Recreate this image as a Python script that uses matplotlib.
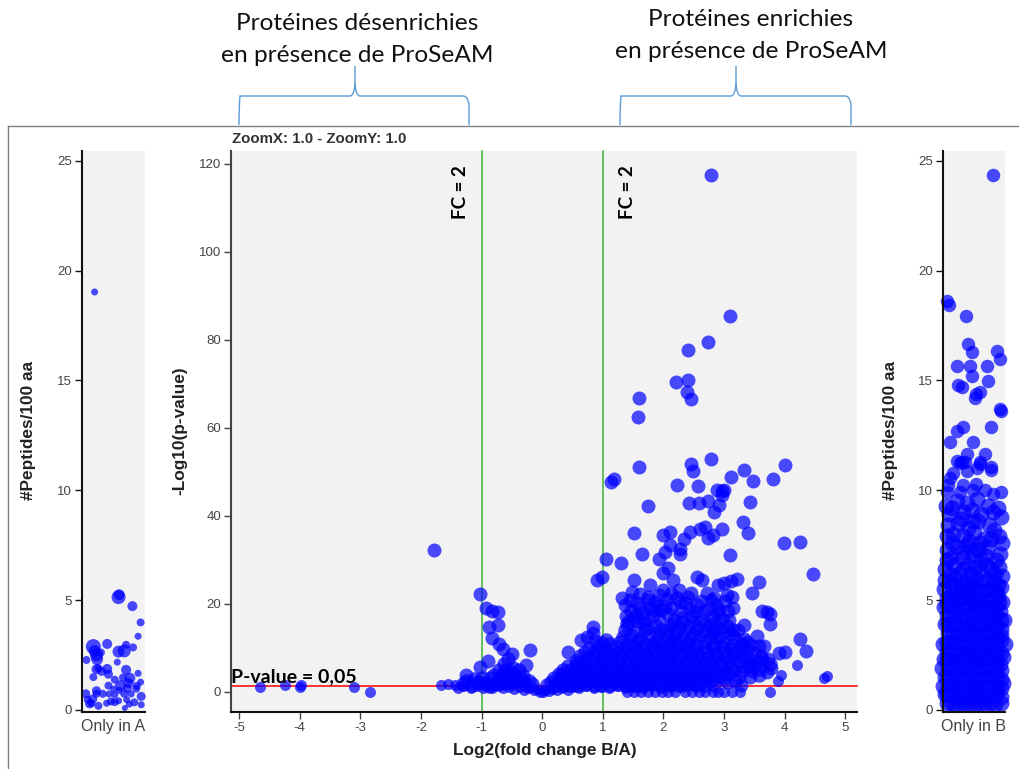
import matplotlib
matplotlib.use("Agg")
from matplotlib import pyplot as plt
from matplotlib.path import Path
from matplotlib.patches import PathPatch

FIG_W, FIG_H = 1020, 769
BLUE = "#0000ff"
PANEL_BG = "#f2f2f2"
TICK_GREY = "#444444"

# main panel: (log2 fold change, -log10 p)
main_upper = [
    (2.78, 117.5), (3.10, 85.5), (2.74, 79.5), (2.41, 77.8), (2.20, 70.5), (2.41, 70.8), (2.38, 68.2),
    (2.45, 66.7), (1.60, 66.8), (1.58, 62.5), (1.60, 51.2), (2.45, 51.8), (2.49, 50.3), (2.78, 52.9),
    (3.12, 48.9), (3.33, 50.4), (3.47, 47.9), (3.80, 48.4), (4.01, 51.5), (1.13, 47.7), (1.19, 48.3),
    (2.22, 47.0), (2.57, 46.8), (2.88, 46.0), (2.96, 45.7), (-1.78, 32.3), (-1.02, 22.3), (-0.92, 19.0),
    (-0.83, 18.5), (-0.73, 18.1), (-0.88, 14.7), (-0.73, 15.2), (0.90, 25.4), (0.98, 26.2), (1.05, 30.3),
    (1.30, 29.4), (1.64, 31.4), (1.51, 36.2), (1.74, 42.3), (2.42, 43.0), (2.58, 43.0), (2.73, 43.5),
    (3.00, 45.9), (2.96, 44.8), (2.91, 42.5), (2.84, 40.8), (3.42, 43.1), (3.31, 38.7), (3.40, 36.2),
    (2.96, 37.0), (2.82, 35.7), (2.74, 35.1), (2.69, 37.6), (2.60, 37.1), (2.43, 36.4), (2.34, 34.7),
    (2.00, 35.7), (2.10, 36.4), (2.11, 33.4), (2.03, 31.9), (1.92, 30.2), (2.28, 32.4), (2.27, 31.4),
    (3.10, 31.1), (3.99, 33.9), (4.25, 34.2), (4.46, 26.8), (2.08, 28.1), (2.00, 27.0), (2.15, 25.4),
    (2.55, 26.2), (2.63, 25.4), (2.90, 24.3), (3.00, 24.8), (3.12, 25.2), (3.21, 25.6), (3.58, 25.1),
    (3.46, 22.6), (1.51, 25.4), (1.78, 24.3), (1.48, 22.8), (2.00, 23.2), (2.25, 23.2), (2.71, 22.6),
    (3.05, 22.0), (3.13, 21.5), (2.83, 21.3), (1.31, 21.3), (1.37, 19.8), (1.45, 21.0), (1.75, 21.5),
    (3.62, 18.3), (3.70, 18.2), (3.76, 17.7), (3.76, 15.4), (3.07, 18.3), (3.32, 15.2), (3.54, 12.7),
    (3.57, 10.5), (3.65, 10.5), (4.25, 12.1), (4.35, 9.3), (4.00, 9.0), (3.90, 8.8), (-0.82, 12.2),
    (-0.71, 11.0), (-0.65, 9.7), (-0.20, 9.6), (-0.50, 8.7), (-0.90, 7.0), (-1.02, 5.6), (-1.25, 3.9),
    (-0.27, 6.1), (0.32, 4.2), (0.43, 9.0), (0.57, 6.7), (0.64, 11.8), (0.74, 12.4), (0.83, 14.7), (0.83, 13.3),
]
main_mid = [
    (1.38, 17.2), (1.42, 16.0), (1.55, 17.6), (1.68, 15.6), (1.74, 20.8), (1.84, 18.6), (1.92, 22.0), (2.06, 21.2), (2.12, 22.6),
    (2.18, 16.4), (2.28, 20.4), (2.40, 21.6), (2.46, 22.4), (2.52, 18.2), (2.62, 20.6), (2.68, 15.4), (2.78, 20.8), (2.85, 16.0),
    (2.92, 18.6), (3.02, 20.6), (3.08, 16.4), (3.15, 19.0), (1.62, 22.2), (1.70, 16.4), (1.90, 19.6), (2.10, 15.0), (2.30, 15.8),
    (2.50, 15.8), (2.84, 14.0), (3.12, 13.2), (3.22, 14.2), (3.38, 11.4), (3.45, 10.6), (3.50, 8.8), (3.60, 8.2), (3.72, 7.6),
    (3.78, 5.4), (3.70, 4.6), (3.46, 4.8), (3.50, 6.0), (3.30, 5.8), (3.42, 3.4), (3.18, 2.6), (3.05, 2.2), (3.28, 1.6),
]
main_cloud = [
    (1.47, 18.4), (1.62, 19.2), (1.86, 20.5), (2.02, 19.6), (2.22, 21.3), (2.36, 20.2), (2.55, 19.8), (2.74, 18.9), (2.86, 19.7),
    (1.51, 16.9), (1.57, 16.1), (1.82, 17.4), (1.93, 16.6), (2.07, 17.8), (2.31, 16.9), (2.47, 17.2), (2.62, 16.4), (2.81, 17.1), (2.96, 16.5),
    (1.72, 14.8), (1.87, 15.1), (1.96, 14.2), (2.16, 15.4), (2.26, 14.6), (2.42, 15.0), (2.56, 14.3), (2.76, 15.2), (2.91, 14.4), (3.05, 15.0),
    (0.87, 11.6), (1.06, 11.9), (1.33, 12.4), (1.46, 12.9), (1.61, 12.1), (1.76, 12.8), (1.91, 11.9), (2.06, 12.7), (2.17, 12.0), (2.31, 12.6), (2.46, 12.1), (2.61, 12.9), (2.76, 12.2), (2.91, 12.5), (3.17, 12.2), (3.33, 12.0),
    (0.78, 9.8), (0.92, 10.4), (1.06, 9.6), (1.22, 10.3), (1.36, 9.9), (1.51, 10.5), (1.66, 9.7), (1.81, 10.4), (1.96, 9.8), (2.11, 10.4), (2.21, 9.9), (2.36, 10.5), (2.51, 9.7), (2.66, 10.3), (2.81, 9.9), (2.96, 10.4), (3.11, 9.8), (3.27, 10.2), (3.38, 9.5),
    (0.62, 8.1), (0.76, 7.7), (0.91, 8.3), (1.03, 7.8), (1.17, 8.2), (1.31, 7.7), (1.46, 8.3), (1.59, 7.8), (1.73, 8.4), (1.87, 7.7), (2.03, 8.2), (2.16, 7.7), (2.31, 8.3), (2.44, 7.8), (2.58, 8.2), (2.73, 7.7), (2.88, 8.3), (3.03, 7.8), (3.16, 8.1), (3.31, 7.7), (3.46, 7.2), (3.62, 7.6),
    (0.42, 6.0), (0.56, 5.6), (0.69, 6.1), (0.84, 5.7), (0.97, 6.0), (1.11, 5.6), (1.26, 6.2), (1.39, 5.7), (1.53, 6.1), (1.67, 5.6), (1.81, 6.2), (1.94, 5.7), (2.09, 6.1), (2.24, 5.6), (2.37, 6.2), (2.52, 5.7), (2.66, 6.0), (2.81, 5.5), (2.95, 6.0), (3.09, 5.5), (3.41, 5.8), (3.58, 5.3), (3.76, 6.4),
    (0.28, 4.1), (0.41, 3.7), (0.53, 4.2), (0.66, 3.8), (0.79, 4.3), (0.93, 3.7), (1.07, 4.2), (1.21, 3.8), (1.34, 4.3), (1.48, 3.7), (1.62, 4.2), (1.76, 3.8), (1.89, 4.3), (2.04, 3.7), (2.18, 4.2), (2.33, 3.8), (2.47, 4.2), (2.61, 3.7), (2.76, 4.1), (2.91, 3.6), (3.07, 4.0), (3.24, 3.4), (3.58, 3.9),
    (0.14, 2.2), (0.27, 2.5), (0.39, 2.1), (0.52, 2.6), (0.65, 2.2), (0.78, 2.7), (0.92, 2.2), (1.05, 2.6), (1.19, 2.2), (1.33, 2.7), (1.46, 2.3), (1.61, 2.6), (1.74, 2.2), (1.88, 2.7), (2.03, 2.3), (2.17, 2.6), (2.31, 2.1), (2.46, 2.5), (2.61, 2.0), (2.76, 2.4),
    (-0.63, 6.3), (-0.56, 7.6), (-0.72, 5.1), (-0.48, 5.4), (-0.38, 5.0), (-0.64, 4.0), (-0.55, 3.2), (-0.45, 3.9), (-0.31, 3.7), (-0.72, 2.8), (-0.86, 3.1), (-0.22, 2.5), (-0.41, 2.4), (-0.60, 2.1), (-0.94, 2.0), (-1.06, 2.2), (-0.78, 1.9), (-0.27, 1.7),
]
main_cloud_fill = [
    (1.40, 15.4), (1.66, 17.9), (2.12, 19.2), (2.29, 18.3), (2.44, 18.9), (2.66, 18.2), (1.96, 18.7), (1.78, 19.1), (1.56, 20.2), (2.90, 17.9),
    (1.55, 13.6), (1.70, 14.0), (1.90, 13.4), (2.05, 13.9), (2.20, 13.3), (2.35, 13.8), (2.50, 13.2), (2.68, 13.9), (2.82, 13.4), (3.00, 13.7), (1.36, 14.2), (3.14, 14.1),
    (0.98, 11.2), (1.12, 10.8), (1.28, 11.3), (1.42, 10.9), (1.56, 11.3), (1.70, 10.8), (1.84, 11.2), (1.98, 10.7), (2.12, 11.3), (2.26, 10.8), (2.40, 11.2), (2.54, 10.7), (2.68, 11.3), (2.84, 10.8), (3.00, 11.2), (3.15, 10.7), (3.30, 11.0),
    (0.70, 9.0), (0.85, 8.8), (1.00, 9.1), (1.14, 8.7), (1.28, 9.0), (1.42, 8.9), (1.56, 9.2), (1.70, 8.7), (1.84, 9.1), (1.98, 8.8), (2.12, 9.1), (2.26, 8.7), (2.40, 9.0), (2.54, 8.8), (2.70, 9.1), (2.84, 8.7), (3.00, 9.0), (3.15, 8.8), (3.30, 9.0),
    (0.55, 7.0), (0.70, 6.9), (0.84, 7.1), (0.98, 6.8), (1.12, 7.1), (1.26, 6.9), (1.40, 7.0), (1.54, 6.8), (1.68, 7.1), (1.82, 6.9), (1.96, 7.0), (2.10, 6.8), (2.24, 7.1), (2.38, 6.9), (2.52, 7.0), (2.66, 6.8), (2.80, 7.1), (2.95, 6.9), (3.10, 7.0), (3.25, 6.8), (3.42, 6.6), (3.56, 6.9),
    (0.35, 5.0), (0.48, 4.9), (0.62, 5.1), (0.76, 4.8), (0.90, 5.0), (1.04, 4.9), (1.18, 5.1), (1.32, 4.8), (1.46, 5.0), (1.60, 4.9), (1.74, 5.1), (1.88, 4.8), (2.02, 5.0), (2.16, 4.9), (2.30, 5.1), (2.44, 4.8), (2.58, 5.0), (2.72, 4.9), (2.86, 5.1), (3.00, 4.8), (3.15, 5.0), (3.30, 4.7),
    (0.20, 3.2), (0.34, 3.1), (0.47, 3.3), (0.60, 3.0), (0.74, 3.3), (0.87, 3.1), (1.00, 3.2), (1.14, 3.0), (1.28, 3.3), (1.41, 3.1), (1.55, 3.2), (1.69, 3.0), (1.83, 3.3), (1.97, 3.1), (2.11, 3.2), (2.25, 3.0), (2.40, 3.3), (2.54, 3.1), (2.69, 3.2), (2.83, 3.0), (2.99, 3.1),
    (0.08, 1.5), (0.21, 1.7), (0.34, 1.5), (0.46, 1.7), (0.59, 1.6), (0.72, 1.8), (0.85, 1.6), (0.99, 1.7), (1.12, 1.5), (1.26, 1.8), (1.40, 1.6), (1.54, 1.7), (1.68, 1.6), (1.81, 1.8), (1.96, 1.6), (2.10, 1.7), (2.24, 1.5), (2.39, 1.8), (2.53, 1.6), (2.68, 1.7), (2.84, 1.6),
    (-1.25, 2.6), (-1.12, 3.0), (-1.00, 3.2), (-0.80, 3.9), (-0.70, 3.5), (-0.60, 5.0), (-0.52, 4.6), (-0.42, 3.0), (-0.34, 2.9), (-0.17, 1.9), (-0.50, 2.2), (-0.67, 2.3), (-0.88, 1.4), (-1.15, 1.6), (-1.30, 1.8),
]
main_floor = [
    (-1.66, 1.6), (-1.55, 1.9), (-1.43, 1.7), (-1.38, 0.9), (-1.30, 1.4), (-1.18, 1.0), (-1.08, 1.3), (-0.98, 0.9), (-0.90, 1.5), (-0.82, 1.0), (-0.72, 1.4), (-0.64, 0.8), (-0.55, 1.2), (-0.47, 0.6), (-0.38, 1.1), (-0.30, 0.5), (-0.21, 0.9), (-0.14, 0.4), (-0.08, 0.6), (-0.03, 0.1), (0.02, 0.0), (0.05, 0.4), (0.11, 0.3), (0.17, 0.7), (0.25, 0.4), (0.32, 1.0), (0.42, 0.5), (0.50, 1.2), (0.60, 0.8), (0.72, 1.3), (0.85, 0.9), (0.97, 1.1), (1.10, 1.0), (1.24, 1.3), (1.37, 0.9), (1.52, 1.2), (1.66, 0.9), (1.80, 1.3), (1.95, 1.0), (2.10, 1.4), (2.30, 1.1), (2.50, 1.3),
    (1.40, 0.1), (1.52, 0.0), (1.63, 0.1), (1.75, 0.0), (1.86, 0.1), (1.97, 0.0), (2.08, 0.0), (2.19, 0.1), (2.35, 0.0), (2.47, 0.1), (2.58, 0.0), (2.68, 0.1), (2.82, 0.0), (2.90, 0.1), (3.00, 0.0), (3.13, 0.0), (3.26, 0.0), (3.76, 0.0), (3.89, 2.4), (3.93, 3.9), (4.20, 6.1), (4.64, 3.2), (4.70, 3.7),
    (-4.66, 1.2), (-4.24, 1.5), (-3.99, 1.2), (-3.98, 1.5), (-3.10, 1.1), (-2.84, 0.0),
]

# side panels: (position across the strip 0..1, #peptides/100 aa, diameter in px)
only_a = [
    (0.20, 19.03, 7), (0.58, 5.13, 14), (0.59, 5.24, 11), (0.80, 4.72, 10), (0.93, 3.98, 8), (0.89, 3.35, 7), (0.18, 2.88, 15),
    (0.20, 2.68, 12), (0.23, 2.50, 13), (0.24, 2.31, 12), (0.30, 2.61, 8), (0.07, 2.27, 8), (0.40, 3.00, 10), (0.58, 2.65, 12),
    (0.67, 2.68, 13), (0.70, 2.96, 8), (0.81, 2.84, 8), (0.56, 2.17, 7), (0.23, 1.85, 10), (0.26, 1.90, 8), (0.40, 1.86, 10),
    (0.31, 1.75, 9), (0.42, 1.62, 9), (0.18, 1.49, 8), (0.70, 1.82, 10), (0.52, 1.37, 8), (0.65, 1.47, 8), (0.76, 1.44, 11),
    (0.89, 1.66, 7), (0.74, 1.22, 10), (0.61, 1.10, 11), (0.93, 1.26, 7), (0.87, 1.09, 8), (0.86, 0.96, 8), (0.42, 1.10, 8),
    (0.50, 0.94, 7), (0.72, 0.98, 9), (0.59, 0.88, 7), (0.23, 0.87, 9), (0.23, 0.73, 8), (0.06, 0.73, 9), (0.33, 0.73, 8),
    (0.43, 0.72, 7), (0.52, 0.68, 7), (0.67, 0.73, 8), (0.78, 0.72, 7), (0.94, 0.61, 9), (0.09, 0.46, 8), (0.17, 0.49, 9),
    (0.12, 0.27, 9), (0.15, 0.30, 8), (0.26, 0.18, 8), (0.39, 0.30, 7), (0.46, 0.38, 8), (0.52, 0.35, 8), (0.58, 0.41, 7),
    (0.71, 0.46, 7), (0.75, 0.26, 7), (0.83, 0.34, 8), (0.94, 0.23, 7), (0.68, 0.08, 6),
]
only_b_upper = [
    (0.80, 24.35), (0.07, 18.60), (0.10, 18.43), (0.37, 17.93), (0.41, 16.68), (0.47, 16.30), (0.87, 16.36), (0.92, 15.96),
    (0.23, 15.65), (0.43, 15.65), (0.71, 15.65), (0.46, 15.20), (0.73, 14.98), (0.25, 14.81), (0.30, 14.70), (0.59, 14.48),
    (0.54, 14.37), (0.51, 14.18), (0.92, 13.72), (0.93, 13.60), (0.33, 12.89), (0.23, 12.70), (0.77, 12.89), (0.12, 12.19),
    (0.49, 12.19), (0.39, 11.67), (0.67, 11.67), (0.23, 11.34), (0.59, 11.30), (0.30, 11.30), (0.27, 11.25), (0.35, 11.30),
    (0.59, 11.20), (0.55, 10.99), (0.78, 11.07), (0.78, 10.90), (0.39, 10.88), (0.16, 10.80), (0.11, 10.54), (0.08, 10.23),
    (0.33, 10.23), (0.54, 10.30), (0.06, 9.93), (0.27, 9.93), (0.49, 10.00), (0.68, 10.03), (0.93, 9.93), (0.81, 9.85),
]
only_b_dense = [
    (0.05, 9.3), (0.22, 9.5), (0.38, 9.4), (0.55, 9.6), (0.72, 9.3), (0.88, 9.2), (0.10, 8.9), (0.33, 9.0), (0.62, 8.9), (0.93, 8.8),
    (0.08, 8.4), (0.24, 8.5), (0.41, 8.3), (0.57, 8.6), (0.74, 8.4), (0.16, 8.0), (0.33, 7.9), (0.50, 8.1), (0.66, 7.8), (0.91, 7.9), (0.95, 7.6),
    (0.06, 7.3), (0.22, 7.4), (0.39, 7.5), (0.56, 7.3), (0.73, 7.4), (0.12, 6.9), (0.30, 6.9), (0.48, 7.0), (0.62, 6.8), (0.85, 6.8), (0.90, 6.5),
    (0.03, 6.4), (0.17, 6.6), (0.33, 6.4), (0.52, 6.5), (0.70, 6.6), (0.84, 6.2), (0.04, 5.9), (0.20, 6.0), (0.37, 5.8), (0.54, 6.0), (0.72, 5.9), (0.93, 5.6),
    (0.02, 5.5), (0.14, 5.6), (0.29, 5.4), (0.45, 5.6), (0.61, 5.4), (0.78, 5.5), (0.88, 5.2), (0.06, 5.1), (0.22, 5.0), (0.38, 5.2), (0.53, 5.0), (0.69, 5.1), (0.95, 4.9),
    (0.01, 4.7), (0.13, 4.8), (0.30, 4.6), (0.46, 4.8), (0.62, 4.6), (0.79, 4.7), (0.92, 4.5), (0.07, 4.3), (0.21, 4.4), (0.37, 4.2), (0.54, 4.4), (0.71, 4.2), (0.86, 4.3), (0.98, 4.1),
    (0.03, 3.9), (0.15, 3.9), (0.29, 3.8), (0.46, 3.9), (0.62, 3.8), (0.78, 3.9), (0.93, 3.7), (0.08, 3.5), (0.22, 3.4), (0.38, 3.5), (0.54, 3.4), (0.70, 3.5), (0.86, 3.4), (1.00, 3.0),
    (0.00, 3.0), (0.14, 3.1), (0.30, 3.0), (0.46, 3.1), (0.62, 3.0), (0.78, 3.1), (0.93, 3.2), (0.06, 2.7), (0.22, 2.6), (0.38, 2.7), (0.54, 2.6), (0.70, 2.7), (0.86, 2.6), (0.97, 2.4),
    (0.02, 2.3), (0.14, 2.3), (0.30, 2.2), (0.46, 2.3), (0.62, 2.2), (0.78, 2.3), (0.92, 2.1), (-0.01, 1.9), (0.08, 1.9), (0.22, 1.8), (0.38, 1.9), (0.54, 1.8), (0.70, 1.9), (0.86, 1.8),
    (0.04, 1.5), (0.15, 1.5), (0.30, 1.4), (0.46, 1.5), (0.62, 1.4), (0.78, 1.5), (0.94, 1.4), (0.00, 1.1), (0.08, 1.1), (0.22, 1.0), (0.38, 1.1), (0.54, 1.0), (0.70, 1.1), (0.86, 1.0), (0.97, 1.2),
    (0.03, 0.7), (0.15, 0.7), (0.30, 0.6), (0.46, 0.7), (0.62, 0.6), (0.78, 0.7), (0.93, 0.6), (0.06, 0.3), (0.20, 0.27), (0.36, 0.3), (0.52, 0.25), (0.68, 0.3), (0.84, 0.28),
]
only_b_fill = [
    (0.15, 9.2), (0.47, 9.1), (0.80, 9.0), (0.30, 8.7), (0.49, 8.6), (0.83, 8.2), (0.07, 7.9), (0.42, 7.7), (0.78, 7.8), (0.15, 7.6), (0.60, 7.6), (0.31, 7.2), (0.47, 7.3), (0.70, 7.0), (0.92, 7.1), (0.06, 6.8), (0.40, 6.6), (0.60, 6.3), (0.78, 6.4), (0.95, 6.1),
    (0.11, 6.2), (0.27, 6.2), (0.45, 6.2), (0.63, 5.8), (0.80, 5.9), (0.11, 5.8), (0.29, 5.7), (0.47, 5.8), (0.88, 5.7), (0.21, 5.3), (0.37, 5.5), (0.53, 5.5), (0.70, 5.4), (0.86, 5.4), (0.13, 5.2), (0.30, 5.1), (0.45, 5.1), (0.61, 5.0), (0.78, 5.0), (0.90, 4.9),
    (0.07, 4.8), (0.21, 4.8), (0.38, 4.7), (0.54, 4.8), (0.71, 4.7), (0.86, 4.7), (0.14, 4.3), (0.29, 4.3), (0.46, 4.3), (0.62, 4.3), (0.78, 4.3), (0.93, 4.1), (0.08, 3.9), (0.22, 3.9), (0.38, 3.8), (0.54, 3.9), (0.70, 3.9), (0.86, 3.8),
    (0.15, 3.5), (0.30, 3.4), (0.46, 3.5), (0.62, 3.4), (0.78, 3.5), (0.93, 3.4), (0.06, 3.1), (0.22, 3.1), (0.38, 3.0), (0.54, 3.1), (0.70, 3.0), (0.86, 3.1), (0.14, 2.7), (0.30, 2.6), (0.46, 2.7), (0.62, 2.6), (0.78, 2.7), (0.93, 2.6),
    (0.07, 2.3), (0.22, 2.2), (0.38, 2.3), (0.54, 2.2), (0.70, 2.3), (0.86, 2.2), (0.15, 1.9), (0.30, 1.8), (0.46, 1.9), (0.62, 1.8), (0.78, 1.9), (0.93, 1.8), (0.08, 1.5), (0.22, 1.4), (0.38, 1.5), (0.54, 1.4), (0.70, 1.5), (0.86, 1.4),
    (0.15, 1.1), (0.30, 1.0), (0.46, 1.1), (0.62, 1.0), (0.78, 1.1), (0.93, 1.0), (0.07, 0.7), (0.22, 0.7), (0.38, 0.6), (0.54, 0.7), (0.70, 0.6), (0.86, 0.7), (0.13, 0.3), (0.28, 0.3), (0.44, 0.27), (0.60, 0.3), (0.76, 0.3), (0.93, 0.3),
]

main_xticks = [-5, -4, -3, -2, -1, 0, 1, 2, 3, 4, 5]
main_yticks = [0, 20, 40, 60, 80, 100, 120]
side_yticks = [0, 5, 10, 15, 20, 25]
pvalue_line = 1.3
fc_lines = [-1, 1]


def px_axes(fig, left, top, right, bottom):
    return fig.add_axes([left / FIG_W, 1 - bottom / FIG_H, (right - left) / FIG_W, (bottom - top) / FIG_H])


def diam(px):
    # scatter size from a diameter in pixels at dpi 100
    return (px * 0.72) ** 2


def style_panel(ax, spine_color):
    ax.set_facecolor(PANEL_BG)
    for side in ["top", "right"]:
        ax.spines[side].set_visible(False)
    for side in ["left", "bottom"]:
        ax.spines[side].set_linewidth(1.5)
        ax.spines[side].set_color(spine_color)
    ax.tick_params(axis="both", direction="out", length=5, width=1, color=spine_color,
                   labelcolor=TICK_GREY, labelsize=9.5, pad=2)


def side_panel(fig, left, right, label):
    ax = px_axes(fig, left, 151, right, 712)
    ax.set_xlim(0, 1)
    ax.set_ylim(-0.1, 25.45)
    style_panel(ax, "#111111")
    ax.set_yticks(side_yticks)
    ax.set_xticks([0.5])
    ax.set_xticklabels([label], fontsize=11.5)
    ax.tick_params(axis="x", length=0, pad=5)
    return ax


def brace(ax, left, right, tip):
    verts = [(left, 125), (left, 105), (left + 1, 96), (left + 6, 96), (tip - 5, 96), (tip - 1, 96), (tip, 84),
             (tip, 66), (tip, 84), (tip + 1, 96), (tip + 5, 96), (right - 6, 96), (right - 1, 96), (right, 105),
             (right, 125)]
    codes = [Path.MOVETO, Path.CURVE3, Path.CURVE3, Path.LINETO, Path.LINETO, Path.CURVE3, Path.CURVE3,
             Path.LINETO, Path.MOVETO, Path.CURVE3, Path.CURVE3, Path.LINETO, Path.CURVE3, Path.CURVE3, Path.LINETO]
    ax.add_patch(PathPatch(Path(verts, codes), fill=False, edgecolor="#5b9bd5", linewidth=1.0))


def main():
    plt.rcParams["font.family"] = ["Liberation Sans", "DejaVu Sans"]
    plt.rcParams["axes.unicode_minus"] = False
    fig = plt.figure(figsize=(FIG_W / 100, FIG_H / 100), dpi=100)

    ax = px_axes(fig, 231, 151, 857, 712)
    ax.set_xlim(-5.13, 5.19)
    ax.set_ylim(-4.55, 122.95)
    style_panel(ax, "#444444")
    ax.spines["bottom"].set_color("#111111")
    ax.set_xticks(main_xticks)
    ax.set_yticks(main_yticks)
    for x in fc_lines:
        ax.axvline(x, color="#3cb034", linewidth=1.1, zorder=1, clip_on=False)
    ax.axhline(pvalue_line, color="#ff0000", linewidth=1.1, zorder=1, clip_on=False)
    for points, size in [(main_floor, 11), (main_cloud_fill, 14.5), (main_cloud, 14.5), (main_mid, 14), (main_upper, 14)]:
        ax.scatter([p[0] for p in points], [p[1] for p in points], s=diam(size), color=BLUE, alpha=0.7,
                   linewidths=0, zorder=2, clip_on=False)

    left = side_panel(fig, 82, 145, "Only in A")
    left.scatter([p[0] for p in only_a], [p[1] for p in only_a], s=[diam(p[2]) for p in only_a], color=BLUE,
                 alpha=0.7, linewidths=0, clip_on=False, zorder=2)

    right = side_panel(fig, 943, 1005, "Only in B")
    for points, size in [(only_b_fill, 16), (only_b_dense, 16), (only_b_upper, 13.5)]:
        right.scatter([p[0] for p in points], [p[1] for p in points], s=diam(size), color=BLUE, alpha=0.7,
                      linewidths=0, clip_on=False, zorder=2)

    # everything drawn over the panels is placed in pixel coordinates
    over = fig.add_axes([0, 0, 1, 1], facecolor="none")
    over.set_xlim(0, FIG_W)
    over.set_ylim(FIG_H, 0)
    over.axis("off")
    over.plot([8, FIG_W], [126, 126], color="#808080", linewidth=1.0)
    over.plot([8, 8], [126, FIG_H], color="#808080", linewidth=1.0)
    brace(over, 239, 469, 355)
    brace(over, 620, 851, 736)

    head = dict(family="Lato", fontsize=17.6, color="#111111", ha="center", va="center")
    over.text(357, 24, "Protéines désenrichies", **head)
    over.text(357, 56, "en présence de ProSeAM", **head)
    over.text(751, 19, "Protéines enrichies", **head)
    over.text(751, 51, "en présence de ProSeAM", **head)

    over.text(232, 139, "ZoomX: 1.0 - ZoomY: 1.0", fontsize=10.8, fontweight="bold", color="#333333", ha="left", va="center")
    over.text(29, 430, "#Peptides/100 aa", fontsize=12.4, fontweight="bold", color="#222222", rotation=90, ha="center", va="center")
    over.text(891, 430, "#Peptides/100 aa", fontsize=12.4, fontweight="bold", color="#222222", rotation=90, ha="center", va="center")
    over.text(180, 431, "-Log10(p-value)", fontsize=12.4, fontweight="bold", color="#222222", rotation=90, ha="center", va="center")
    over.text(545, 751, "Log2(fold change B/A)", fontsize=12.4, fontweight="bold", color="#222222", ha="center", va="center")

    note = dict(family="Lato", fontweight="bold", color="black")
    over.text(461, 192, "FC = 2", fontsize=13.5, rotation=90, ha="center", va="center", **note)
    over.text(628, 192, "FC = 2", fontsize=13.5, rotation=90, ha="center", va="center", **note)
    over.text(231, 677, "P-value = 0,05", fontsize=14, ha="left", va="center", **note)

    fig.savefig("out.png", dpi=100)


if __name__ == "__main__":
    main()
